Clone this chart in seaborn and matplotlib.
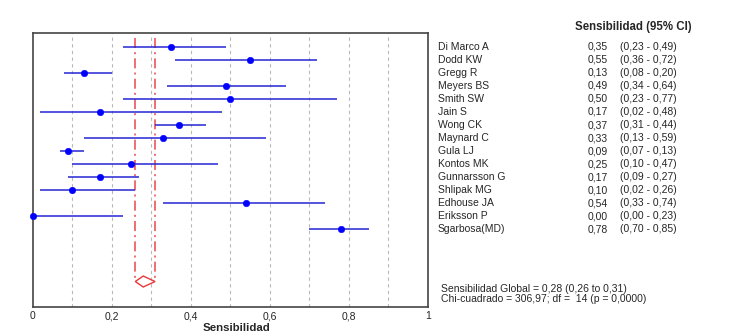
import pandas as pd
import matplotlib.pyplot as plt
import matplotlib.transforms as mtransforms
from matplotlib.patches import Polygon
import seaborn as sns

sns.set_style("white")
plt.rcParams["font.family"] = ["Liberation Sans", "DejaVu Sans"]

# 数据
estudios = ["Di Marco A", "Dodd KW", "Gregg R", "Meyers BS", "Smith SW", "Jain S",
            "Wong CK", "Maynard C", "Gula LJ", "Kontos MK", "Gunnarsson G",
            "Shlipak MG", "Edhouse JA", "Eriksson P", "Sgarbosa(MD)"]
sens = [0.35, 0.55, 0.13, 0.49, 0.50, 0.17, 0.37, 0.33, 0.09, 0.25, 0.17, 0.10, 0.54, 0.00, 0.78]
ci_low = [0.23, 0.36, 0.08, 0.34, 0.23, 0.02, 0.31, 0.13, 0.07, 0.10, 0.09, 0.02, 0.33, 0.00, 0.70]
ci_high = [0.49, 0.72, 0.20, 0.64, 0.77, 0.48, 0.44, 0.59, 0.13, 0.47, 0.27, 0.26, 0.74, 0.23, 0.85]
global_sens = 0.28
global_low = 0.26
global_high = 0.31
texto_global = "Sensibilidad Global = 0,28 (0,26 to 0,31)"
texto_chi = "Chi-cuadrado = 306,97; df =  14 (p = 0,0000)"

df = pd.DataFrame({"estudio": estudios, "sens": sens, "low": ci_low, "high": ci_high})
df["pos"] = range(len(df))
pos_global = len(df) + 3


def fmt(v):
    return f"{v:.2f}".replace(".", ",")


fig = plt.figure(figsize=(7.39, 3.34), dpi=100)
ax = fig.add_axes([0.044, 0.081, 0.535, 0.820])

# 网格线
for gx in [0.1, 0.2, 0.3, 0.4, 0.5, 0.6, 0.7, 0.8, 0.9]:
    ax.axvline(gx, color="#b8b8b8", lw=0.8, ls=(0, (3, 3)), zorder=0)

# 置信区间
ax.hlines(df["pos"], df["low"], df["high"], color="#2626d6", lw=1.1, zorder=2)
sns.scatterplot(data=df, x="sens", y="pos", ax=ax, color="#0000ff", s=22,
                edgecolor="#0000ff", zorder=3, clip_on=False)

# 合并估计
ax.vlines([global_low, global_high], -0.65, pos_global, color="#e8383a", lw=1.2,
          ls=(0, (6, 2.5, 1.2, 2.5)), alpha=0.85, zorder=1)
diamond = Polygon([(global_low, pos_global), (global_sens, pos_global - 0.42),
                   (global_high, pos_global), (global_sens, pos_global + 0.42)],
                  closed=True, fill=False, edgecolor="#e8383a", lw=1.0)
ax.add_patch(diamond)

ax.set_xlim(0, 1)
ax.set_ylim(19.95, -1.05)
ax.set_yticks([])
ax.set_xticks([0, 0.2, 0.4, 0.6, 0.8, 1])
ax.set_xticklabels(["0", "0,2", "0,4", "0,6", "0,8", "1"], fontsize=7.5)
ax.tick_params(axis="x", length=0, pad=3)
ax.set_xlabel("Sensibilidad", fontsize=8.2, fontweight="bold")
ax.xaxis.set_label_coords(0.517, -0.06)
ax.set_ylabel("")
for s in ax.spines.values():
    s.set_color("#444444")
    s.set_linewidth(1.2)

# 右侧表格
trans = mtransforms.blended_transform_factory(ax.transAxes, ax.transData)
x_nombre = (438 - 32.5) / 395.5
x_valor = (588 - 32.5) / 395.5
x_ci = (620 - 32.5) / 395.5
x_titulo = (575 - 32.5) / 395.5
x_global = (441 - 32.5) / 395.5
fs = 7.5
ax.text(x_titulo, -1.52, "Sensibilidad (95% CI)", transform=trans, fontsize=8.3,
        fontweight="bold", va="center", ha="left", clip_on=False)
for _, r in df.iterrows():
    ax.text(x_nombre, r["pos"], r["estudio"], transform=trans, fontsize=fs,
            va="center", ha="left", clip_on=False)
    ax.text(x_valor, r["pos"], fmt(r["sens"]), transform=trans, fontsize=fs,
            va="center", ha="left", clip_on=False)
    ax.text(x_ci, r["pos"], f"({fmt(r['low'])} - {fmt(r['high'])})", transform=trans,
            fontsize=fs, va="center", ha="left", clip_on=False)
ax.text(x_global, 18.57, texto_global, transform=trans, fontsize=fs, va="center",
        ha="left", clip_on=False)
ax.text(x_global, 19.33, texto_chi, transform=trans, fontsize=fs, va="center",
        ha="left", clip_on=False)

plt.savefig("out.png", dpi=100)
plt.close()
